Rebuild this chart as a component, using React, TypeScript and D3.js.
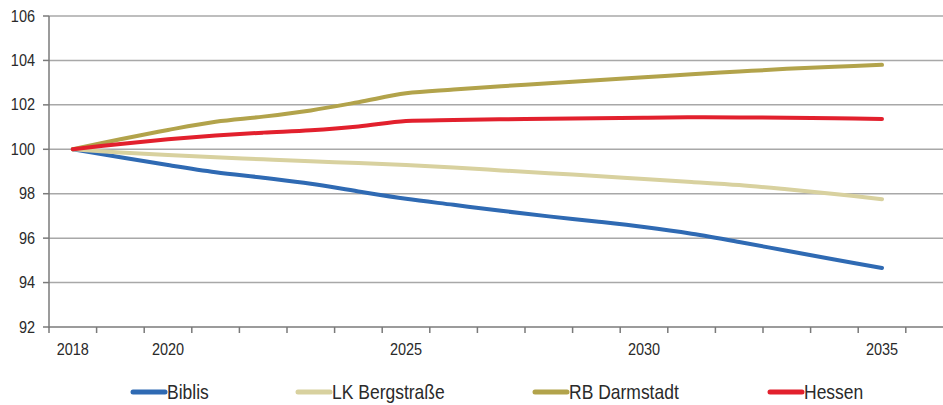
import React from "react";
import * as d3 from "d3";

const years = [2018, 2019, 2020, 2021, 2022, 2023, 2024, 2025, 2026, 2027, 2028, 2029, 2030, 2031, 2032, 2033, 2034, 2035];
const biblis = [100, 99.64, 99.29, 98.97, 98.72, 98.45, 98.1, 97.77, 97.5, 97.23, 96.98, 96.75, 96.5, 96.2, 95.83, 95.43, 95.04, 94.66];
const lkBergstrasse = [100, 99.86, 99.74, 99.64, 99.55, 99.46, 99.38, 99.29, 99.18, 99.05, 98.92, 98.8, 98.66, 98.53, 98.39, 98.2, 97.99, 97.75];
const rbDarmstadt = [100, 100.45, 100.87, 101.24, 101.47, 101.75, 102.12, 102.52, 102.69, 102.84, 102.97, 103.11, 103.24, 103.38, 103.5, 103.62, 103.72, 103.8];
const hessen = [100, 100.24, 100.45, 100.62, 100.75, 100.86, 101.03, 101.27, 101.32, 101.35, 101.37, 101.4, 101.42, 101.44, 101.43, 101.42, 101.4, 101.36];
const yTicks = [92, 94, 96, 98, 100, 102, 104, 106];
const xLabelYears = [2018, 2020, 2025, 2030, 2035];
const seriesNames = ["Biblis", "LK Bergstraße", "RB Darmstadt", "Hessen"];

const colors = ["#2f6ab3", "#d8d19f", "#b2a34b", "#e2202d"];
const legendX = [133, 298, 535, 770];

export default function App() {
  const W = 943, H = 405;
  const left = 49, plotRight = 943, top = 16, bottom = 327;
  const x = d3.scaleLinear().domain([years[0] - 0.5, years[years.length - 1] + 0.5]).range([left, 905.8]);
  const y = d3.scaleLinear().domain([92, 106]).range([bottom, top]);
  const allSeries = [biblis, lkBergstrasse, rbDarmstadt, hessen];
  const line = d3
    .line<number>()
    .x((_, i) => x(years[i]))
    .y((d) => y(d))
    .curve(d3.curveCatmullRom.alpha(0.5));
  const tickPositions = d3.range(years[0] - 0.5, years[years.length - 1] + 1, 1);
  const font = "'Liberation Sans', Arial, sans-serif";
  const textT = (tx: number, ty: number) => `translate(${tx},${ty}) scale(1,1.12)`;

  return (
    <svg width={W} height={H} style={{ position: "absolute", left: 0, top: 0, background: "#fff" }} fontFamily={font}>
      {yTicks.map((t) => (
        <g key={t}>
          <line x1={left} x2={plotRight} y1={y(t)} y2={y(t)} stroke={t === 92 ? "#7a7a7a" : "#a8a8a8"} strokeWidth={1.5} />
          <line x1={43} x2={left} y1={y(t)} y2={y(t)} stroke="#7a7a7a" strokeWidth={1.5} />
          <text transform={textT(35, y(t) + 5.5)} textAnchor="end" fontSize={14.5} fill="#2a2a2a">
            {t}
          </text>
        </g>
      ))}
      <line x1={left} x2={left} y1={top} y2={bottom + 1} stroke="#7a7a7a" strokeWidth={1.5} />
      {tickPositions.map((p) => (
        <line key={p} x1={x(p)} x2={x(p)} y1={bottom} y2={bottom + 6} stroke="#7a7a7a" strokeWidth={1.5} />
      ))}
      {xLabelYears.map((yr) => (
        <text key={yr} transform={textT(x(yr), 355)} textAnchor="middle" fontSize={14.5} fill="#2a2a2a">
          {yr}
        </text>
      ))}
      {allSeries.map((s, i) => (
        <path key={i} d={line(s) || ""} fill="none" stroke={colors[i]} strokeWidth={4} strokeLinecap="round" strokeLinejoin="round" />
      ))}
      {seriesNames.map((n, i) => (
        <g key={n}>
          <line x1={legendX[i]} x2={legendX[i] + 32} y1={392} y2={392} stroke={colors[i]} strokeWidth={5} strokeLinecap="round" />
          <text transform={textT(legendX[i] + 34, 398.5)} fontSize={17.5} fill="#2a2a2a">
            {n}
          </text>
        </g>
      ))}
    </svg>
  );
}
